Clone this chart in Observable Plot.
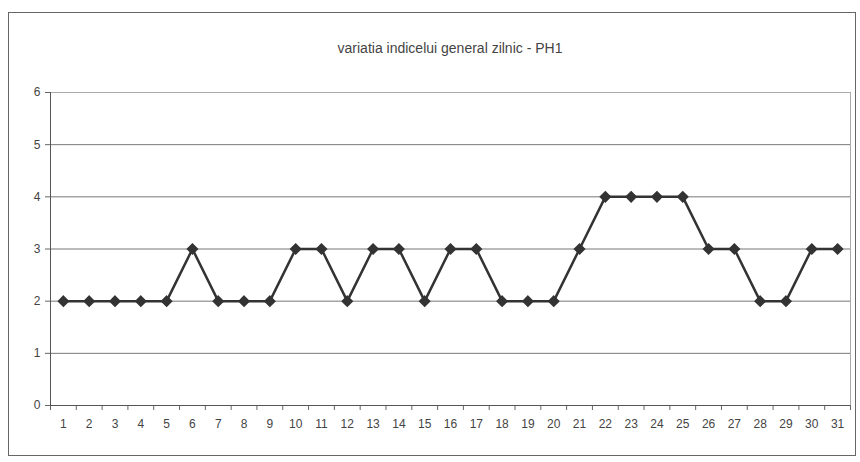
<!DOCTYPE html>
<html><head><meta charset="utf-8">
<script src="https://cdn.jsdelivr.net/npm/d3@7"></script>
<script src="https://cdn.jsdelivr.net/npm/@observablehq/plot@0.6"></script>
<style>
body{margin:0;background:#fff;font-family:"Liberation Sans",Arial,sans-serif;}
#fig{position:relative;width:860px;height:462px;overflow:hidden;}
#border{position:absolute;left:8px;top:12px;width:846px;height:442px;border:1px solid #666;}
#title{position:absolute;top:40px;left:0;width:900px;text-align:center;font-size:14px;color:#444;}
#chart{position:absolute;left:0;top:0;}
</style></head>
<body>
<div id="fig"><div id="border"></div><div id="title">variatia indicelui general zilnic - PH1</div><div id="chart"></div></div>
<script>
const days = d3.range(1, 32);
const values = [2,2,2,2,2,3,2,2,2,3,3,2,3,3,2,3,3,2,2,2,3,4,4,4,4,3,3,2,2,3,3];
const yTicks = [0,1,2,3,4,5,6];
const data = days.map((d,i)=>({day:d, value:values[i]}));
const chart = Plot.plot({
  width: 860, height: 462,
  marginTop: 92, marginBottom: 57, marginLeft: 50, marginRight: 10,
  style:{fontFamily:'"Liberation Sans",Arial,sans-serif', fontSize:"12px", color:"#444", background:"transparent"},
  x:{domain:[0.5,31.5]},
  y:{domain:[0,6]},
  marks:[
    Plot.gridY(yTicks,{stroke:"#777",strokeOpacity:1,strokeWidth:1}),
    Plot.frame({stroke:"#aaa"}),
    Plot.axisY(yTicks,{tickSize:5,tickPadding:5,stroke:"#666",tickFormat:"d",label:null}),
    Plot.axisX(days,{tickSize:0,tickPadding:14,label:null}),
    Plot.axisX(days.map(d=>d-0.5).concat([31.5]),{tickSize:5,tickFormat:()=>"",stroke:"#666",label:null}),
    Plot.ruleY([0],{stroke:"#555"}),
    Plot.ruleX([0.5],{stroke:"#555"}),
    Plot.line(data,{x:"day",y:"value",stroke:"#333",strokeWidth:2.5}),
    Plot.dot(data,{x:"day",y:"value",symbol:"diamond2",fill:"#333",stroke:"#333",r:4.5})
  ]
});
document.getElementById("chart").appendChild(chart);
</script>
</body></html>
